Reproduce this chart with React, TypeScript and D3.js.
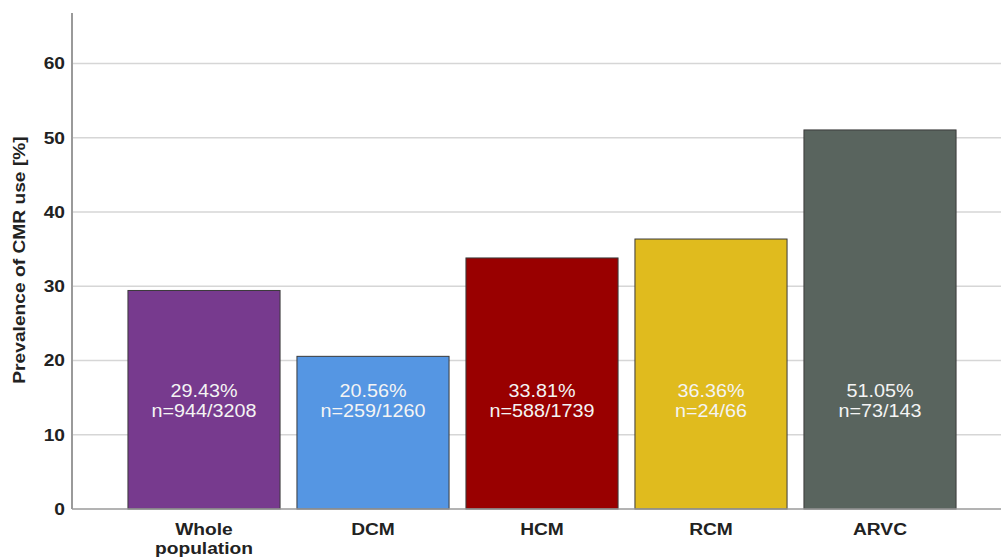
import React, { useEffect, useRef } from 'react';
import * as d3 from 'd3';

const categories = ['Whole population', 'DCM', 'HCM', 'RCM', 'ARVC'];
const prevalence = [29.43, 20.56, 33.81, 36.36, 51.05];
const counts = ['n=944/3208', 'n=259/1260', 'n=588/1739', 'n=24/66', 'n=73/143'];
const barColors = ['#773a8e', '#5596e3', '#990000', '#e0bb1e', '#59645e'];
const yTicks = [0, 10, 20, 30, 40, 50, 60];

const App: React.FC = () => {
  const svgRef = useRef<SVGSVGElement>(null);

  useEffect(() => {
    if (!svgRef.current) return;
    const width = 1001;
    const height = 558;
    const margin = { top: 13, right: 0, bottom: 49, left: 72 };
    const stretch = 1.13; // source text is a bit wider than Arial

    const svg = d3.select(svgRef.current);
    svg.selectAll('*').remove();
    svg.attr('width', width).attr('height', height);

    const yScale = d3
      .scaleLinear()
      .domain([0, 66.8])
      .range([height - margin.bottom, margin.top]);

    const xScale = d3
      .scaleBand<string>()
      .domain(categories)
      .range([119.5, 964.5])
      .paddingInner(0.1)
      .paddingOuter(0.05);

    const font = 'Arial, "Liberation Sans", sans-serif';

    // gridlines
    svg
      .append('g')
      .selectAll('line')
      .data(yTicks.filter((t) => t > 0))
      .join('line')
      .attr('x1', margin.left)
      .attr('x2', width)
      .attr('y1', (d) => yScale(d))
      .attr('y2', (d) => yScale(d))
      .attr('stroke', '#d6d6d6')
      .attr('stroke-width', 1.5);

    // bars
    svg
      .append('g')
      .selectAll('rect')
      .data(categories)
      .join('rect')
      .attr('x', (d) => xScale(d)!)
      .attr('width', xScale.bandwidth())
      .attr('y', (_, i) => yScale(prevalence[i]))
      .attr('height', (_, i) => yScale(0) - yScale(prevalence[i]))
      .attr('fill', (_, i) => barColors[i])
      .attr('stroke', '#3a3a3a')
      .attr('stroke-width', 1);

    // bar labels
    const labels = svg.append('g');
    categories.forEach((c, i) => {
      const cx = xScale(c)! + xScale.bandwidth() / 2;
      const t = labels
        .append('text')
        .attr('transform', `translate(${cx}, 0) scale(${stretch}, 1)`)
        .attr('text-anchor', 'middle')
        .attr('font-family', font)
        .attr('font-size', 17.5)
        .attr('fill', '#f4f4f4');
      t.append('tspan').attr('x', 0).attr('y', 397).text(`${prevalence[i].toFixed(2)}%`);
      t.append('tspan').attr('x', 0).attr('y', 417).text(counts[i]);
    });

    // axes lines
    svg
      .append('line')
      .attr('x1', margin.left)
      .attr('x2', margin.left)
      .attr('y1', margin.top)
      .attr('y2', yScale(0))
      .attr('stroke', '#9a9a9a')
      .attr('stroke-width', 2);
    svg
      .append('line')
      .attr('x1', margin.left)
      .attr('x2', width)
      .attr('y1', yScale(0))
      .attr('y2', yScale(0))
      .attr('stroke', '#9a9a9a')
      .attr('stroke-width', 1.5);

    // y tick labels
    svg
      .append('g')
      .selectAll('text')
      .data(yTicks)
      .join('text')
      .attr('transform', (d) => `translate(65, ${yScale(d) + 6}) scale(${stretch}, 1)`)
      .attr('text-anchor', 'end')
      .attr('font-family', font)
      .attr('font-weight', 'bold')
      .attr('font-size', 17)
      .attr('fill', '#222')
      .text((d) => d);

    // x category labels
    categories.forEach((c) => {
      const cx = xScale(c)! + xScale.bandwidth() / 2;
      const words = c === 'Whole population' ? ['Whole', 'population'] : [c];
      const t = svg
        .append('text')
        .attr('transform', `translate(${cx}, 0) scale(${stretch}, 1)`)
        .attr('text-anchor', 'middle')
        .attr('font-family', font)
        .attr('font-weight', 'bold')
        .attr('font-size', 17)
        .attr('fill', '#222');
      words.forEach((w, k) => {
        t.append('tspan').attr('x', 0).attr('y', 535 + k * 19).text(w);
      });
    });

    // y axis title
    svg
      .append('text')
      .attr('transform', `translate(25, 260) rotate(-90) scale(${stretch}, 1)`)
      .attr('text-anchor', 'middle')
      .attr('font-family', font)
      .attr('font-weight', 'bold')
      .attr('font-size', 17)
      .attr('fill', '#222')
      .text('Prevalence of CMR use [%]');
  }, []);

  return (
    <div style={{ position: 'absolute', left: 0, top: 0 }}>
      <svg ref={svgRef} style={{ display: 'block', background: '#fff' }}></svg>
    </div>
  );
};

export default App;
